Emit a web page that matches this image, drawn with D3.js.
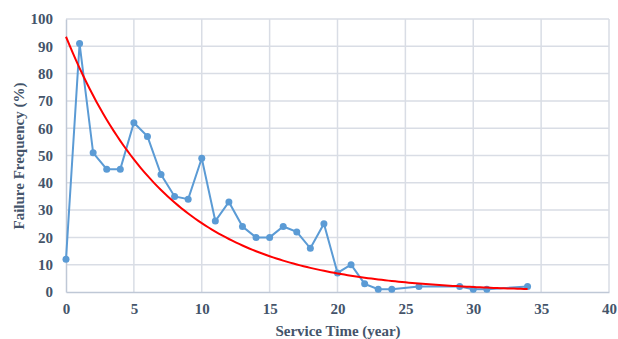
<!DOCTYPE html>
<html>
<head>
<meta charset="utf-8">
<script src="https://cdn.jsdelivr.net/npm/d3@7"></script>
<style>
  body { margin: 0; background: #fff; }
</style>
</head>
<body>
<svg id="chart" width="618" height="339"></svg>
<script>
// service time (year) and failure frequency (%)
var years = [0, 1, 2, 3, 4, 5, 6, 7, 8, 9, 10, 11, 12, 13, 14, 15, 16, 17, 18, 19, 20, 21, 22, 23, 24, 26, 29, 30, 31, 34];
var failures = [12, 91, 51, 45, 45, 62, 57, 43, 35, 34, 49, 26, 33, 24, 20, 20, 24, 22, 16, 25, 7, 10, 3, 1, 1, 2, 2, 1, 1, 2];
// exponential trendline y = a * exp(-b x), drawn from 0 to 34
var trendA = 93.5, trendB = 0.131, trendRange = [0, 34];
var xTicks = [0, 5, 10, 15, 20, 25, 30, 35, 40];
var yTicks = [0, 10, 20, 30, 40, 50, 60, 70, 80, 90, 100];

var serif = "Liberation Serif";
var svg = d3.select("#chart");
var x = d3.scaleLinear().domain([0, 40]).range([66, 609]);
var y = d3.scaleLinear().domain([0, 100]).range([292, 19]);

//grid
svg.append("g").selectAll("line.v").data(xTicks.slice(1)).enter().append("line")
	.attr("x1", d => x(d)).attr("x2", d => x(d)).attr("y1", y(0)).attr("y2", y(100))
	.attr("stroke", "#d9dde5").attr("stroke-width", 1.5);
svg.append("g").selectAll("line.h").data(yTicks.slice(1)).enter().append("line")
	.attr("x1", x(0)).attr("x2", x(40)).attr("y1", d => y(d)).attr("y2", d => y(d))
	.attr("stroke", "#d9dde5").attr("stroke-width", 1.5);

//axes
var xAxis = svg.append("g").attr("transform", "translate(0," + y(0) + ")")
	.call(d3.axisBottom(x).tickValues(xTicks).tickSize(0).tickPadding(11));
var yAxis = svg.append("g").attr("transform", "translate(" + x(0) + ",0)")
	.call(d3.axisLeft(y).tickValues(yTicks).tickSize(0).tickPadding(13));
[xAxis, yAxis].forEach(function(a){
	a.attr("font-family", serif).attr("font-size", 15).attr("font-weight", "bold");
	a.select(".domain").attr("stroke", "#bfc8d6").attr("stroke-width", 1.5);
	a.selectAll("text").attr("fill", "#44546a");
});

//titles
svg.append("text").attr("x", 338).attr("y", 336).attr("text-anchor", "middle")
	.attr("font-family", serif).attr("font-weight", "bold").attr("font-size", 15)
	.attr("fill", "#44546a").text("Service Time (year)");
svg.append("text").attr("transform", "translate(24,156) rotate(-90)").attr("text-anchor", "middle")
	.attr("font-family", serif).attr("font-weight", "bold").attr("font-size", 15)
	.attr("fill", "#44546a").text("Failure Frequency (%)");

//data line
var pts = years.map((d, i) => [d, failures[i]]);
svg.append("path").datum(pts)
	.attr("d", d3.line().x(d => x(d[0])).y(d => y(d[1])))
	.attr("fill", "none").attr("stroke", "#5b9bd5").attr("stroke-width", 2);
svg.append("g").selectAll("circle").data(pts).enter().append("circle")
	.attr("cx", d => x(d[0])).attr("cy", d => y(d[1])).attr("r", 3.5)
	.attr("fill", "#5b9bd5");

//trendline
var trendX = d3.range(trendRange[0], trendRange[1] + 0.01, 0.25);
svg.append("path").datum(trendX)
	.attr("d", d3.line().x(d => x(d)).y(d => y(trendA * Math.exp(-trendB * d))))
	.attr("fill", "none").attr("stroke", "#ff0000").attr("stroke-width", 2);
</script>
</body>
</html>
